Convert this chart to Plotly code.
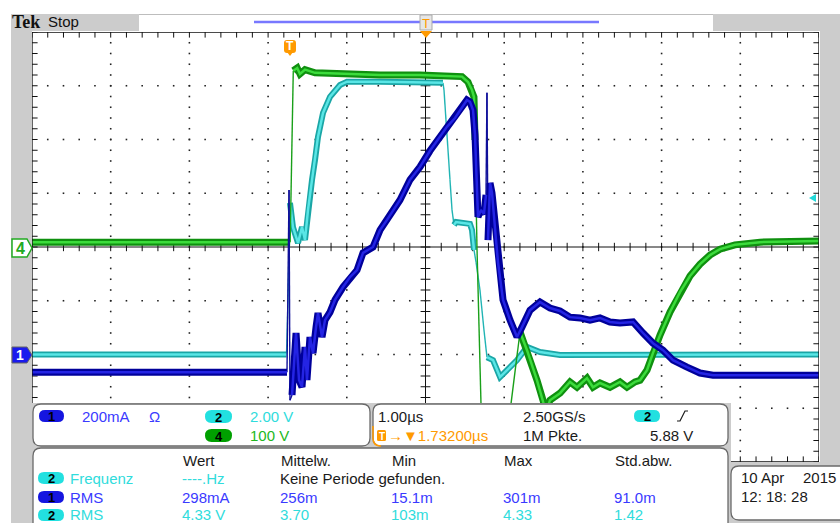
import plotly.graph_objects as go

W, H = 840, 523

# ---- channel / timebase settings ----
CH1_SCALE, CH1_POS = 200.0, -2.0   # mA/div, ground position (div)
CH2_SCALE, CH2_POS = 2.0, -2.0     # V/div
CH4_SCALE, CH4_POS = 100.0, 0.0    # V/div
TIME_SCALE = 1.0                   # µs/div

# ---- waveforms, time in µs relative to trigger ----
ch4_t = [-5.00, -1.720, -1.680, -1.630, -1.595, -1.531, -1.404, -1.086, -0.578, -0.070,
         0.311, 0.464, 0.540, 0.591, 0.616, 0.629, 0.654, 0.705, 0.756, 1.010,
         1.087, 1.201, 1.290, 1.417, 1.493, 1.531, 1.582, 1.709, 1.836, 1.925,
         2.052, 2.128, 2.217, 2.344, 2.471, 2.560, 2.662, 2.726, 2.815, 2.891,
         2.980, 3.107, 3.234, 3.361, 3.488, 3.615, 3.742, 3.932, 4.250, 5.00]
ch4_v = [9, 9, 328, 333, 322, 330, 324, 322, 320, 320,
         318, 317, 307, 292, 279, 199, 0, -291, -434, -434,
         -291, -158, -192, -248, -285, -307, -285, -272, -251, -261,
         -244, -261, -253, -261, -251, -261, -251, -248, -229, -197,
         -164, -121, -84, -54, -32, -15, -4, 4, 9, 11]

ch2_t = [-5.00, -1.766, -1.747, -1.722, -1.684, -1.620, -1.569, -1.531, -1.493, -1.442,
         -1.404, -1.366, -1.302, -1.213, -1.086, -0.997, -0.578, -0.070, 0.222, 0.235,
         0.260, 0.286, 0.311, 0.337, 0.362, 0.388, 0.565, 0.591, 0.616, 0.642,
         0.692, 0.743, 0.781, 0.858, 0.947, 1.036, 1.163, 1.290, 1.455, 1.709, 5.00]
ch2_v = [0.0, 0.0, 2.03, 5.64, 4.74, 4.15, 4.74, 4.26, 5.38, 6.50,
         7.24, 8.10, 8.99, 9.59, 10.03, 10.15, 10.15, 10.11, 10.11, 9.85,
         8.73, 7.61, 6.50, 5.38, 4.82, 4.93, 4.86, 4.63, 3.89, 3.44,
         2.40, 0.91, -0.10, -0.21, -0.84, -0.58, -0.21, 0.28, 0.09, -0.02, 0.0]

ch1_t = [-5.00, -1.760, -1.734, -1.722, -1.696, -1.645, -1.607, -1.569, -1.531, -1.506,
         -1.468, -1.429, -1.391, -1.366, -1.315, -1.277, -1.213, -1.150, -1.048, -0.959,
         -0.870, -0.794, -0.667, -0.578, -0.489, -0.324, -0.197, -0.070, 0.057, 0.184,
         0.273, 0.375, 0.464, 0.527, 0.565, 0.604, 0.629, 0.642, 0.654, 0.667,
         0.705, 0.743, 0.769, 0.781, 0.794, 0.820, 0.845, 0.870, 0.896, 0.921,
         0.947, 0.985, 1.074, 1.163, 1.226, 1.328, 1.455, 1.582, 1.709, 1.836,
         1.963, 2.090, 2.217, 2.344, 2.471, 2.637, 2.764, 2.891, 3.018, 3.145,
         3.323, 3.488, 3.653, 5.00]
ch1_ma = [-66, -66, 612, -170, -151, 80, -95, -121, 28, -95,
          65, 5, 102, 154, 65, 128, 158, 203, 251, 288,
          314, 378, 400, 463, 501, 575, 650, 698, 758, 810,
          847, 880, 921, 947, 940, 910, 817, 724, 575, 512,
          538, 523, 594, 974, 426, 638, 601, 527, 426, 344,
          277, 203, 128, 65, 102, 165, 195, 173, 162, 139,
          136, 128, 136, 121, 117, 121, 80, 42, 16, -21,
          -47, -69, -77, -77]

# time windows drawn as thin fast edges instead of the thick phosphor band
ch4_fast = [(-1.75, -1.67), (0.62, 1.21)]
ch2_fast = [(-1.77, -1.71), (0.21, 0.37), (0.60, 0.79)]
ch1_fast = [(-1.77, -1.69), (0.76, 0.80)]

# ---- readouts ----
meas_headers = ["Wert", "Mittelw.", "Min", "Max", "Std.abw."]
meas_rms1 = ["298mA", "256m", "15.1m", "301m", "91.0m"]
meas_rms2 = ["4.33 V", "3.70", "103m", "4.33", "1.42"]
col_x = [181, 279, 390, 502, 613]

FONT = "Liberation Sans, Arial, sans-serif"
BLUE_T, CYAN_T, GREEN_T, ORANGE, BLACK = "#3a3aff", "#30dcdc", "#22b822", "#ff9a00", "#1a1a1a"
GRAY = "#cccccc"


def PX(x):
    return x / W


def PY(y):
    return 1 - y / H


def to_div(vals, scale, pos):
    return [v / scale + pos for v in vals]


def split(t, d, windows):
    bx, by, ex, ey = [], [], [], []
    for i in range(len(t) - 1):
        fast = any(a <= t[i] <= b and a <= t[i + 1] <= b for a, b in windows)
        if fast:
            ex += [t[i], t[i + 1], None]
            ey += [d[i], d[i + 1], None]
        else:
            if bx and bx[-1] == t[i]:
                bx.append(t[i + 1]); by.append(d[i + 1])
            else:
                if bx:
                    bx.append(None); by.append(None)
                bx += [t[i], t[i + 1]]; by += [d[i], d[i + 1]]
    return bx, by, ex, ey


def rpath(x0, y0, x1, y1, r):
    p = lambda x, y: f"{PX(x):.5f},{PY(y):.5f}"
    return (f"M {p(x0 + r, y0)} L {p(x1 - r, y0)} Q {p(x1, y0)} {p(x1, y0 + r)} "
            f"L {p(x1, y1 - r)} Q {p(x1, y1)} {p(x1 - r, y1)} L {p(x0 + r, y1)} "
            f"Q {p(x0, y1)} {p(x0, y1 - r)} L {p(x0, y0 + r)} Q {p(x0, y0)} {p(x0 + r, y0)} Z")


def poly(pts):
    return "M " + " L ".join(f"{PX(x):.5f},{PY(y):.5f}" for x, y in pts) + " Z"


fig = go.Figure()

# ---- graticule ----
gx, gy = [], []
for k in range(-4, 5):
    if k == 0:
        continue
    for j in range(-19, 20):
        gx.append(k); gy.append(j * 0.2)
for k in range(-3, 4):
    if k == 0:
        continue
    for j in range(-24, 25):
        gx.append(j * 0.2); gy.append(k)
fig.add_trace(go.Scatter(x=gx, y=gy, mode="markers", hoverinfo="skip", showlegend=False,
                         marker=dict(symbol="square", size=1.6, color="#222222", line_width=0)))

tick_h = [j * 0.2 for j in range(-25, 26)]
tick_v = [j * 0.2 for j in range(-20, 21)]
fig.add_trace(go.Scatter(x=tick_h, y=[0] * len(tick_h), mode="markers", hoverinfo="skip", showlegend=False,
                         marker=dict(symbol="line-ns", size=6, line=dict(width=1, color="#111"))))
fig.add_trace(go.Scatter(x=[0] * len(tick_v), y=tick_v, mode="markers", hoverinfo="skip", showlegend=False,
                         marker=dict(symbol="line-ew", size=7, line=dict(width=1, color="#111"))))
fig.add_trace(go.Scatter(x=tick_h + tick_h, y=[4] * len(tick_h) + [-4] * len(tick_h), mode="markers",
                         hoverinfo="skip", showlegend=False,
                         marker=dict(symbol="line-ns", size=8, line=dict(width=1, color="#111"))))
fig.add_trace(go.Scatter(x=[-5] * len(tick_v) + [5] * len(tick_v), y=tick_v + tick_v, mode="markers",
                         hoverinfo="skip", showlegend=False,
                         marker=dict(symbol="line-ew", size=8, line=dict(width=1, color="#111"))))

# ---- waveforms ----
channels = [
    (ch2_t, to_div(ch2_v, CH2_SCALE, CH2_POS), ch2_fast, "#1aa6a6", "#5ae6e6", "#20b4b4", 6),
    (ch4_t, to_div(ch4_v, CH4_SCALE, CH4_POS), ch4_fast, "#0f900f", "#3cdc3c", "#1aa01a", 7),
    (ch1_t, to_div(ch1_ma, CH1_SCALE, CH1_POS), ch1_fast, "#00009a", "#2424e4", "#10109a", 7),
]
for t, d, win, dark, light, edge, wid in channels:
    tt = [v / TIME_SCALE for v in t]
    bx, by, ex, ey = split(tt, d, win)
    fig.add_trace(go.Scatter(x=ex, y=ey, mode="lines", hoverinfo="skip", showlegend=False,
                             line=dict(color=edge, width=1.4)))
    fig.add_trace(go.Scatter(x=bx, y=by, mode="lines", hoverinfo="skip", showlegend=False,
                             line=dict(color=dark, width=wid)))
    fig.add_trace(go.Scatter(x=bx, y=by, mode="lines", hoverinfo="skip", showlegend=False,
                             line=dict(color=light, width=2.5)))

shapes = []
# centre cross
shapes.append(dict(type="line", xref="x", yref="y", x0=-5, x1=5, y0=0, y1=0, layer="below",
                   line=dict(color="#111", width=1)))
shapes.append(dict(type="line", xref="x", yref="y", x0=0, x1=0, y0=-4, y1=4, layer="below",
                   line=dict(color="#111", width=1)))
# border
shapes.append(dict(type="rect", xref="x", yref="y", x0=-5, x1=5, y0=-4, y1=4, layer="above",
                   line=dict(color="#111", width=1.3)))

# surrounding grey frame
for x0, y0, x1, y1 in [(11, 14, 32, 523), (11, 14, 139, 31), (713, 14, 840, 31), (820, 14, 840, 523),
                       (11, 403, 731, 523), (728, 462, 840, 523)]:
    shapes.append(dict(type="rect", xref="paper", yref="paper", x0=PX(x0), x1=PX(x1), y0=PY(y1), y1=PY(y0),
                       layer="above", fillcolor=GRAY, line_width=0))
shapes.append(dict(type="line", xref="paper", yref="paper", x0=PX(139), x1=PX(713), y0=PY(14.5), y1=PY(14.5),
                   layer="above", line=dict(color="#bdbdbd", width=1)))
# record view bar
shapes.append(dict(type="line", xref="paper", yref="paper", x0=PX(254), x1=PX(599), y0=PY(22), y1=PY(22),
                   layer="above", line=dict(color="#7878ff", width=2.5)))
shapes.append(dict(type="rect", xref="paper", yref="paper", x0=PX(420), x1=PX(432), y0=PY(30), y1=PY(15),
                   layer="above", fillcolor="#e6e6e6", line=dict(color="#aaaaaa", width=1)))
shapes.append(dict(type="path", xref="paper", yref="paper", path=poly([(420, 31), (432, 31), (426, 38)]),
                   layer="above", fillcolor=ORANGE, line_width=0))
# trigger position marker
shapes.append(dict(type="path", xref="paper", yref="paper", path=rpath(284, 40, 296, 53, 3),
                   layer="above", fillcolor=ORANGE, line_width=0))
shapes.append(dict(type="path", xref="paper", yref="paper", path=poly([(287, 52), (293, 52), (290, 56)]),
                   layer="above", fillcolor=ORANGE, line_width=0))
# trigger level marker
shapes.append(dict(type="path", xref="paper", yref="paper", path=poly([(809, 198), (816, 194), (816, 202)]),
                   layer="above", fillcolor="#22d8d8", line_width=0))
# channel ground markers
shapes.append(dict(type="path", xref="paper", yref="paper",
                   path=poly([(12, 239), (27, 239), (32, 248), (27, 257), (12, 257)]),
                   layer="above", fillcolor="white", line=dict(color="#22aa22", width=1.5)))
shapes.append(dict(type="path", xref="paper", yref="paper",
                   path=poly([(12, 347), (27, 347), (32, 355), (27, 363), (12, 363)]),
                   layer="above", fillcolor="#1a1aee", line=dict(color="#666666", width=1)))

# readout panels
for x0, y0, x1, y1, r in [(33, 404, 370, 446, 8), (373, 404, 728, 446, 8), (33, 448, 728, 540, 8),
                          (731, 466, 860, 520, 8)]:
    shapes.append(dict(type="path", xref="paper", yref="paper", path=rpath(x0, y0, x1, y1, r),
                       layer="above", fillcolor="white", line=dict(color="#6a6a6a", width=1.3)))
shapes.append(dict(type="path", xref="paper", yref="paper",
                   path=f"M {PX(373):.5f},{PY(426):.5f} L {PX(373):.5f},{PY(438):.5f} "
                        f"Q {PX(373):.5f},{PY(446):.5f} {PX(381):.5f},{PY(446):.5f}",
                   layer="above", line=dict(color=ORANGE, width=1.5)))
shapes.append(dict(type="path", xref="paper", yref="paper", path=rpath(377, 430, 386, 441, 1.5),
                   layer="above", fillcolor=ORANGE, line_width=0))
# rising edge slope glyph
shapes.append(dict(type="path", xref="paper", yref="paper",
                   path=f"M {PX(677):.5f},{PY(421):.5f} L {PX(680):.5f},{PY(421):.5f} "
                        f"L {PX(685):.5f},{PY(411):.5f} L {PX(688):.5f},{PY(411):.5f}",
                   layer="above", line=dict(color=BLACK, width=1.2)))

annotations = []


def txt(s, x, y, color=BLACK, size=15, family=FONT, anchor="left"):
    annotations.append(dict(text=s, x=PX(x), y=PY(y), xref="paper", yref="paper", xanchor=anchor,
                            yanchor="middle", showarrow=False, font=dict(family=family, size=size, color=color)))


def pill(x0, y0, x1, y1, fill, label, fc="black"):
    shapes.append(dict(type="path", xref="paper", yref="paper", path=rpath(x0, y0, x1, y1, (y1 - y0) / 2),
                       layer="above", fillcolor=fill, line_width=0))
    txt(f"<b>{label}</b>", (x0 + x1) / 2, (y0 + y1) / 2 + 0.5, fc, 13, anchor="center")


txt("<b>Tek</b>", 10, 22, "#111", 18, "Liberation Serif, serif")
txt("Stop", 46, 22, "#111", 15)
txt("T", 426, 23, ORANGE, 13, anchor="center")
txt("<b>T</b>", 290, 46.5, "white", 12, anchor="center")
txt("<b>4</b>", 20, 248, "#22aa22", 16, anchor="center")
txt("<b>1</b>", 20, 355, "white", 14, anchor="center")

# channel scales
pill(39, 410, 64, 422, "#1515e0", "1")
txt("200mA", 80, 416, BLUE_T)
txt("Ω", 147, 416, BLUE_T)
pill(205, 410, 232, 423, "#22e0e0", "2")
txt("2.00 V", 248, 416, CYAN_T)
pill(205, 429, 232, 442, "#00a000", "4")
txt("100 V", 248, 435, GREEN_T)

# timebase / trigger
txt("1.00µs", 376, 416)
txt("<b>T</b>", 381.5, 436, "white", 10, anchor="center")
txt("→▼1.73200µs", 386, 435, ORANGE)
txt("2.50GS/s", 521, 416)
txt("1M Pkte.", 521, 435)
pill(634, 410, 660, 422, "#22e0e0", "2")
txt("5.88 V", 648, 435)

# measurements
for s, x in zip(meas_headers, col_x):
    txt(s, x, 460)
pill(38, 472, 64, 484, "#22e0e0", "2")
txt("Frequenz", 68, 478, CYAN_T)
txt("----.Hz", 180, 478, CYAN_T)
txt("Keine Periode gefunden.", 278, 478)
pill(38, 491, 64, 503, "#1515e0", "1")
txt("RMS", 68, 497, BLUE_T)
for s, x in zip(meas_rms1, col_x):
    txt(s, x - 1, 497, BLUE_T)
pill(38, 509, 64, 521, "#22e0e0", "2")
txt("RMS", 68, 514, CYAN_T)
for s, x in zip(meas_rms2, col_x):
    txt(s, x - 1, 514, CYAN_T)

# date / time
txt("10 Apr", 739, 477)
txt("2015", 838, 477, anchor="right")
txt("12: 18: 28", 739, 496)

fig.update_layout(
    width=W, height=H, margin=dict(l=0, r=0, t=0, b=0),
    paper_bgcolor="white", plot_bgcolor="white",
    xaxis=dict(domain=[32 / W, 819 / W], range=[-5, 5], visible=False, fixedrange=True),
    yaxis=dict(domain=[1 - 462 / H, 1 - 32 / H], range=[-4, 4], visible=False, fixedrange=True),
    shapes=shapes, annotations=annotations, showlegend=False,
)

fig.write_html("out.html")
